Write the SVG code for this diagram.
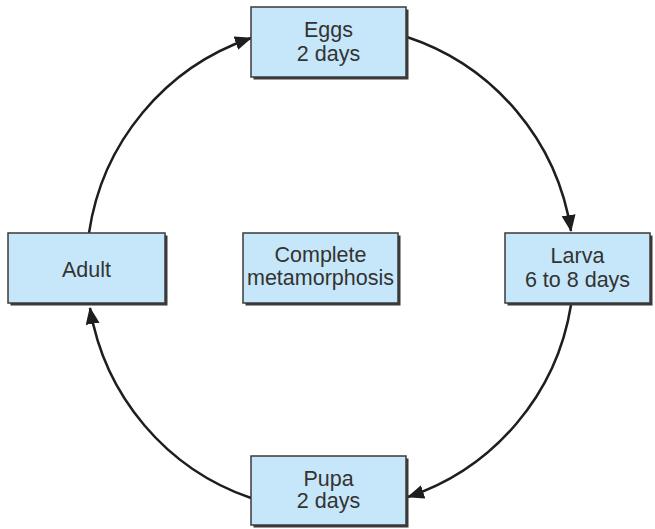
<svg xmlns="http://www.w3.org/2000/svg" width="655" height="529" viewBox="0 0 655 529">
<style>
.box{fill:#c6e7f9;stroke:#3a3a3a;stroke-width:1.5}
.shadow{fill:#3a3a3a}
.t{font-family:"Liberation Sans",Arial,sans-serif;font-size:21.5px;fill:#333;text-anchor:middle}
.arc{fill:none;stroke:#1e1e1e;stroke-width:2.5;marker-end:url(#ah)}
</style>
<defs>
<marker id="ah" markerUnits="userSpaceOnUse" markerWidth="20" markerHeight="16" refX="16" refY="7" orient="auto">
<path d="M0,0 L17,7 L0,14 z" fill="#1e1e1e"/>
</marker>
</defs>
<rect width="655" height="529" fill="#fff"/>
<g id="connectors">
<path class="arc" d="M89,233 A243,243 0 0 1 251,38"/>
<path class="arc" d="M407,37 A243,243 0 0 1 571,231"/>
<path class="arc" d="M571,305 A243,243 0 0 1 408,497"/>
<path class="arc" d="M251,498 A243,243 0 0 1 90,308"/>
</g>
<g id="eggs">
<rect class="shadow" x="253.5" y="9.5" width="155" height="70"/>
<rect class="box" x="251" y="7" width="155" height="70"/>
<text class="t" x="328.5" y="37">Eggs</text>
<text class="t" x="328.5" y="61">2 days</text>
</g>
<g id="larva">
<rect class="shadow" x="507.5" y="235.5" width="145" height="70"/>
<rect class="box" x="505" y="233" width="145" height="70"/>
<text class="t" x="577.5" y="263">Larva</text>
<text class="t" x="577.5" y="287">6 to 8 days</text>
</g>
<g id="adult">
<rect class="shadow" x="10.5" y="235.5" width="157" height="70"/>
<rect class="box" x="8" y="233" width="157" height="70"/>
<text class="t" x="86.5" y="277">Adult</text>
</g>
<g id="complete">
<rect class="shadow" x="245.5" y="235.5" width="155" height="70"/>
<rect class="box" x="243" y="233" width="155" height="70"/>
<text class="t" x="320.5" y="262">Complete</text>
<text class="t" x="320.5" y="285">metamorphosis</text>
</g>
<g id="pupa">
<rect class="shadow" x="253.5" y="458.5" width="155" height="69"/>
<rect class="box" x="251" y="456" width="155" height="69"/>
<text class="t" x="328.5" y="486">Pupa</text>
<text class="t" x="328.5" y="508">2 days</text>
</g>
</svg>
